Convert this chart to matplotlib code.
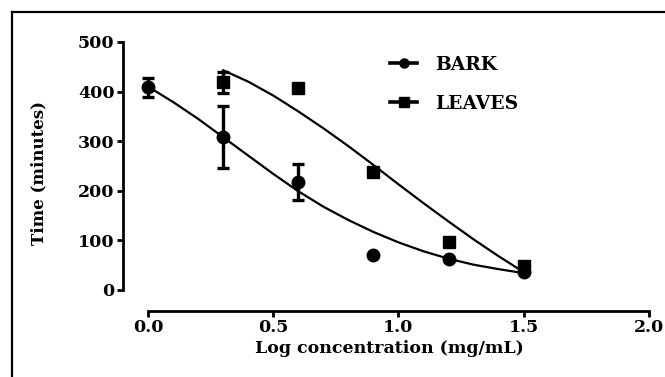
import numpy as np
import matplotlib.pyplot as plt
from matplotlib.lines import Line2D

plt.rcParams['font.family'] = 'DejaVu Serif'
plt.rcParams['font.weight'] = 'bold'
plt.rcParams['axes.labelweight'] = 'bold'

# measured points (mean +/- error)
bark_x = [0.0, 0.3, 0.6, 0.9, 1.2, 1.5]
bark_y = [409, 308, 218, 70, 62, 36]
bark_err = [19, 62, 36, 0, 0, 0]

leaves_x = [0.3, 0.6, 0.9, 1.2, 1.5]
leaves_y = [419, 407, 238, 97, 48]
leaves_err = [21, 0, 0, 0, 0]

# fitted curves
bark_fit_x = [0.0, 0.1, 0.2, 0.3, 0.4, 0.5, 0.6, 0.7, 0.8, 0.9, 1.0, 1.1, 1.2, 1.3, 1.4, 1.5]
bark_fit_y = [410, 379, 345, 308, 271, 234, 199, 168, 141, 117, 96, 78, 63, 51, 42, 34]
leaves_fit_x = [0.3, 0.4, 0.5, 0.6, 0.7, 0.8, 0.9, 1.0, 1.1, 1.2, 1.3, 1.4, 1.5]
leaves_fit_y = [443, 420, 392, 360, 326, 290, 252, 213, 175, 138, 102, 68, 36]

fig = plt.figure(figsize=(6.65, 3.77), dpi=100)
ax = fig.add_axes([0.1774, 0.165, 0.8173, 0.750])

ax.plot(bark_fit_x, bark_fit_y, color='black', lw=1.6, zorder=2)
ax.plot(leaves_fit_x, leaves_fit_y, color='black', lw=1.6, zorder=2)

ax.errorbar(bark_x, bark_y, yerr=bark_err, fmt='o', color='black', ms=9,
            elinewidth=2.4, capsize=4.3, capthick=2.4, zorder=3)
ax.errorbar(leaves_x, leaves_y, yerr=leaves_err, fmt='s', color='black', ms=8.5,
            elinewidth=2.4, capsize=4.3, capthick=2.4, zorder=4)

ax.set_xlim(-0.12, 2.05)
ax.set_ylim(-50, 520)
ax.set_xticks([0.0, 0.5, 1.0, 1.5, 2.0])
ax.set_xticklabels(['0.0', '0.5', '1.0', '1.5', '2.0'])
ax.set_yticks([0, 100, 200, 300, 400, 500])

for s in ['top', 'right']:
    ax.spines[s].set_visible(False)
ax.spines['left'].set_position(('data', -0.1))
ax.spines['left'].set_bounds(0, 500)
ax.spines['bottom'].set_position(('data', -42))
ax.spines['bottom'].set_bounds(0, 2)
for s in ['left', 'bottom']:
    ax.spines[s].set_linewidth(2.0)
ax.tick_params(width=2.0, length=4, labelsize=12.5, pad=2)

ax.set_xlabel('Log concentration (mg/mL)', fontsize=12.5, labelpad=3)
ax.set_ylabel('Time (minutes)', fontsize=12, labelpad=22)

handles = [Line2D([], [], color='black', lw=2.6, marker='o', ms=6.5),
           Line2D([], [], color='black', lw=2.6, marker='s', ms=6.5)]
ax.legend(handles, ['BARK', 'LEAVES'], loc='upper left', frameon=False,
          bbox_to_anchor=(390 / 665, 1 - 56 / 377), bbox_transform=fig.transFigure,
          fontsize=13.5, handlelength=1.45, handletextpad=0.95, labelspacing=1.1,
          borderpad=0, borderaxespad=0)

# outer frame lines (top and left)
fig.add_artist(Line2D([12 / 665, 1], [1 - 12 / 377, 1 - 12 / 377],
                      transform=fig.transFigure, color='black', lw=1.6))
fig.add_artist(Line2D([12 / 665, 12 / 665], [0, 1 - 12 / 377],
                      transform=fig.transFigure, color='black', lw=1.6))

fig.savefig('out.png', dpi=100)
